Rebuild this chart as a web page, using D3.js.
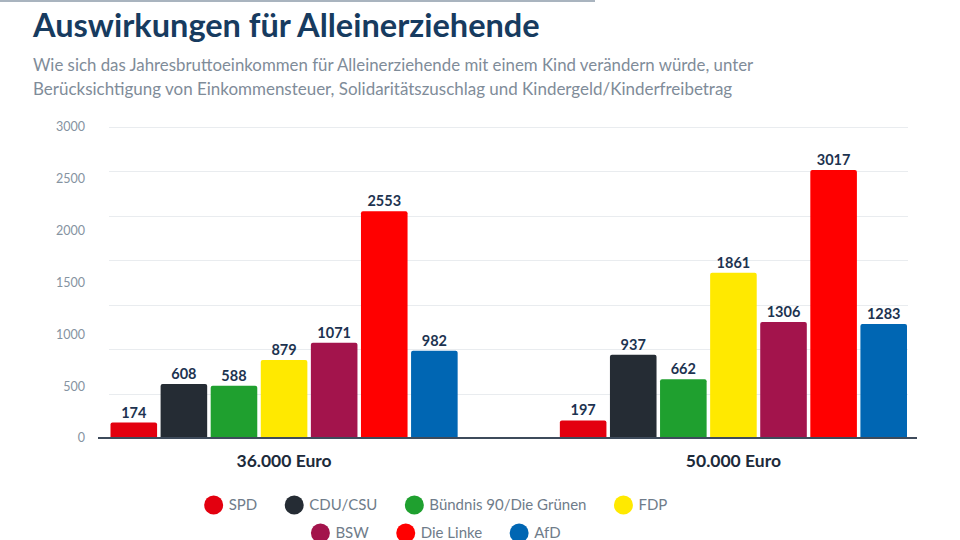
<!DOCTYPE html>
<html><head><meta charset="utf-8">
<script src="https://cdn.jsdelivr.net/npm/d3@7"></script>
<style>
html,body{margin:0;padding:0;background:#fff;}
svg{display:block;font-family:"Lato","Open Sans",sans-serif;}
</style></head>
<body>
<svg id="chart" width="960" height="540"></svg>
<script>
const title = "Auswirkungen für Alleinerziehende";
const subtitleLines = [
  "Wie sich das Jahresbruttoeinkommen für Alleinerziehende mit einem Kind verändern würde, unter",
  "Berücksichtigung von Einkommensteuer, Solidaritätszuschlag und Kindergeld/Kinderfreibetrag"
];
const categories = ["36.000 Euro", "50.000 Euro"];
const parties = ["SPD", "CDU/CSU", "Bündnis 90/Die Grünen", "FDP", "BSW", "Die Linke", "AfD"];
const colors = ["#e3000f", "#252c34", "#1fa02f", "#ffe900", "#a3144c", "#ff0000", "#0066b3"];
const values36 = [174, 608, 588, 879, 1071, 2553, 982];
const values50 = [197, 937, 662, 1861, 1306, 3017, 1283];
const gridTicks = [0, 500, 1000, 1500, 2000, 2500, 3000, 3500];
const tickLabels = [0, 500, 1000, 1500, 2000, 2500, 3000];
const legendRows = [["SPD", "CDU/CSU", "Bündnis 90/Die Grünen", "FDP"], ["BSW", "Die Linke", "AfD"]];

const seriesByCat = [values36, values50];

const svg = d3.select("#chart");

// top rule
svg.append("line").attr("x1", 0).attr("x2", 595).attr("y1", 1).attr("y2", 1)
  .attr("stroke", "#a9b4bf").attr("stroke-width", 2);

function fitText(sel, width) {
  const w = sel.node().getComputedTextLength();
  const fs = parseFloat(sel.attr("font-size"));
  sel.attr("font-size", fs * width / w);
}

const t = svg.append("text").attr("x", 33).attr("y", 37)
  .attr("font-size", 30).attr("font-weight", 700).attr("fill", "#173b5f").text(title);
fitText(t, 507);

const subW = [721, 700];
subtitleLines.forEach((s, i) => {
  const st = svg.append("text").attr("x", 33).attr("y", 71 + i * 24)
    .attr("font-size", 17).attr("fill", "#7f8c99").text(s);
  fitText(st, subW[i]);
});

const y = d3.scaleLinear().domain([0, 3500]).range([438, 127]);
const yLabel = d3.scaleLinear().domain([0, 3000]).range([438, 127]);
const x0 = d3.scaleBand().domain(categories).range([109.5, 908]).paddingInner(0.223).paddingOuter(0);
const x1 = d3.scaleBand().domain(parties).range([0, x0.bandwidth()]).paddingInner(0.07).paddingOuter(0.02);
const color = d3.scaleOrdinal().domain(parties).range(colors);

// gridlines
svg.append("g").selectAll("line").data(gridTicks.slice(1)).join("line")
  .attr("x1", 109).attr("x2", 908)
  .attr("y1", d => Math.round(y(d)) + 0.5).attr("y2", d => Math.round(y(d)) + 0.5)
  .attr("stroke", "#e9ecef").attr("stroke-width", 1);

// y labels
svg.append("g").selectAll("text").data(tickLabels).join("text")
  .attr("x", 85).attr("y", d => yLabel(d)).attr("dy", "0.35em")
  .attr("text-anchor", "end").attr("font-size", 12.5).attr("fill", "#8593a1")
  .text(d => d);

// bars
const groups = svg.append("g").selectAll("g").data(categories).join("g")
  .attr("transform", d => `translate(${x0(d)},0)`);

groups.each(function (cat, ci) {
  const g = d3.select(this);
  const data = parties.map((p, i) => ({ p, v: seriesByCat[ci][i] }));
  g.selectAll("path").data(data).join("path")
    .attr("fill", d => color(d.p))
    .attr("d", d => {
      const xx = x1(d.p), w = x1.bandwidth(), top = y(d.v), bot = y(0), r = 2;
      return `M${xx},${bot}V${top + r}Q${xx},${top} ${xx + r},${top}H${xx + w - r}Q${xx + w},${top} ${xx + w},${top + r}V${bot}Z`;
    });
  g.selectAll("text").data(data).join("text")
    .attr("x", d => x1(d.p) + x1.bandwidth() / 2)
    .attr("y", d => y(d.v) - 5)
    .attr("text-anchor", "middle").attr("font-size", 14.5).attr("font-weight", 700)
    .attr("fill", "#1d3350").text(d => d.v);
});

// baseline
svg.append("line").attr("x1", 98).attr("x2", 917).attr("y1", 438).attr("y2", 438)
  .attr("stroke", "#3e4b5b").attr("stroke-width", 2);

// category labels
svg.append("g").selectAll("text").data(categories).join("text")
  .attr("x", d => x0(d) + x0.bandwidth() / 2).attr("y", 467)
  .attr("text-anchor", "middle").attr("font-size", 17.5).attr("font-weight", 700)
  .attr("fill", "#1c2a3a").text(d => d);

// legend
const legendCenter = 436;
const legendGap = 28;
legendRows.forEach((row, ri) => {
  const lg = svg.append("g");
  let cx = 0;
  row.forEach((name, i) => {
    const item = lg.append("g").attr("transform", `translate(${cx},0)`);
    item.append("circle").attr("cx", 9).attr("cy", 0).attr("r", 9.5).attr("fill", color(name));
    const tx = item.append("text").attr("x", 24).attr("y", 0).attr("dy", "0.35em")
      .attr("font-size", 15).attr("fill", "#6f7c8a").text(name);
    cx += 24 + tx.node().getComputedTextLength() + legendGap;
  });
  const total = cx - legendGap;
  lg.attr("transform", `translate(${legendCenter - total / 2},${505 + ri * 28})`);
});
</script>
</body></html>
